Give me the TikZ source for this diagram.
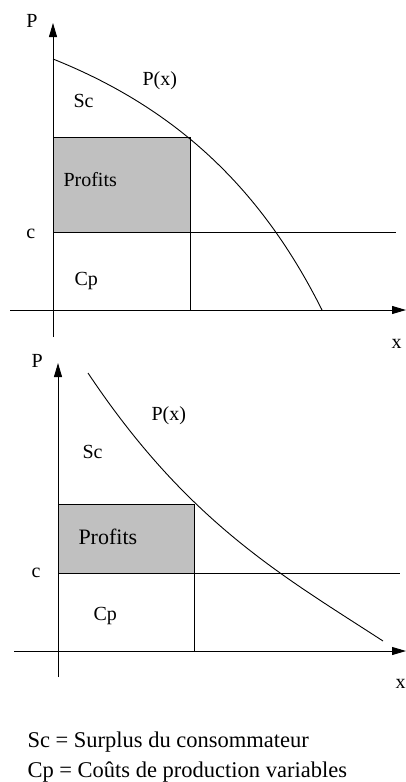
\documentclass[tikz,border=0pt]{standalone}
\usepackage{fontspec}
\setmainfont{Liberation Serif}
\usetikzlibrary{arrows.meta}
\definecolor{profitgray}{RGB}{192,192,192}
\tikzset{
  ln/.style={line width=0.9pt, black},
  axis/.style={line width=0.9pt, black, -{Triangle[length=14pt,width=8pt]}},
  lbl/.style={anchor=base west, inner sep=0pt, outer sep=0pt, font=\fontsize{20}{24}\selectfont},
  biglbl/.style={anchor=base west, inner sep=0pt, outer sep=0pt, font=\fontsize{22}{26}\selectfont},
  leglbl/.style={anchor=base west, inner sep=0pt, outer sep=0pt, font=\fontsize{22.5}{27}\selectfont},
}
\begin{document}
\begin{tikzpicture}[x=1pt,y=-1pt]
\useasboundingbox (0,0) rectangle (406,782);
% ---------- top diagram ----------
\fill[profitgray] (53,137) rectangle (190,232);
\draw[ln] (53,137) -- (190,137);
\draw[ln] (53,232) -- (396,232);
\draw[ln] (190,137) -- (190,311);
\draw[ln] (53,59) .. controls (178,109) and (262,190) .. (322,310);
\coordinate (tyb) at (53,337);
\coordinate (tyt) at (53,23);
\coordinate (txl) at (10,310);
\coordinate (txr) at (406,310);
\draw[axis] (tyb) -- (tyt);
\draw[axis] (txl) -- (txr);
\node[lbl] (tP) at (26.5,27) {P};
\node[lbl] (tPx) at (142.5,85) {P(x)};
\node[lbl] (tSc) at (73.5,107) {Sc};
\node[lbl] (tPr) at (63.5,186) {Profits};
\node[lbl] (tc) at (26.5,238) {c};
\node[lbl] (tCp) at (74.5,285) {Cp};
\node[lbl] (tx) at (391.5,348) {x};
% ---------- bottom diagram ----------
\fill[profitgray] (58,504) rectangle (194,573);
\draw[ln] (58,504) -- (194,504);
\draw[ln] (58,573) -- (400,573);
\draw[ln] (194,504) -- (194,652);
\draw[ln] (88,373) .. controls (188,523) and (283,576) .. (383,641);
\coordinate (byb) at (58,677);
\coordinate (byt) at (58,363);
\coordinate (bxl) at (14,651);
\coordinate (bxr) at (406,651);
\draw[axis] (byb) -- (byt);
\draw[axis] (bxl) -- (bxr);
\node[lbl] (bP) at (31.5,367) {P};
\node[lbl] (bPx) at (151.5,420) {P(x)};
\node[lbl] (bSc) at (82.5,458) {Sc};
\node[biglbl] (bPr) at (78.5,544) {Profits};
\node[lbl] (bc) at (31.5,577) {c};
\node[lbl] (bCp) at (93.5,620) {Cp};
\node[lbl] (bx) at (395.5,688) {x};
% ---------- legend ----------
\node[leglbl] (leg1) at (27.5,747) {Sc = Surplus du consommateur};
\node[leglbl] (leg2) at (27.5,777) {Cp = Coûts de production variables};
\end{tikzpicture}
\end{document}
